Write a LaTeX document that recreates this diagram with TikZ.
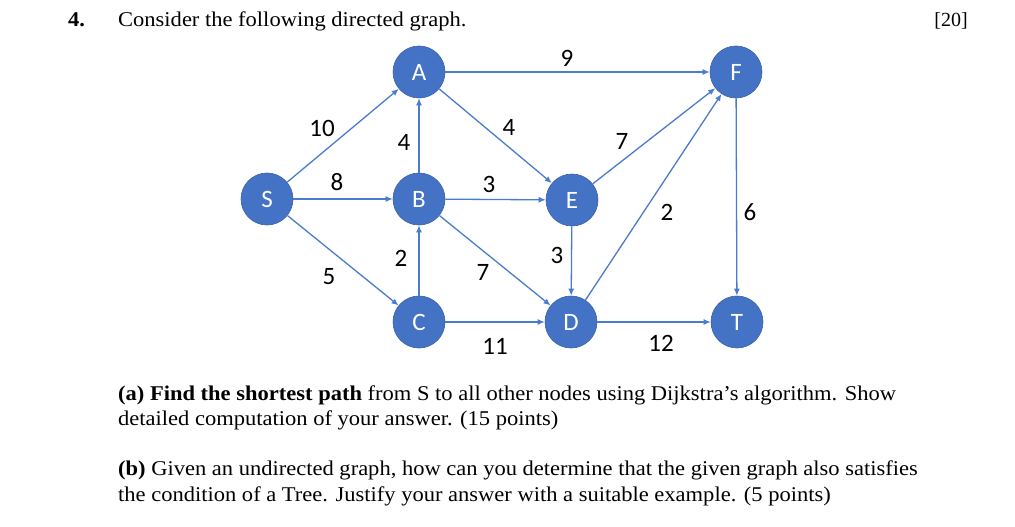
\documentclass[tikz,border=0pt]{standalone}
\usepackage{fontspec}
\setmainfont{Liberation Serif}[FakeStretch=1.072]
\newfontfamily\plainserif{Liberation Serif}
\newfontfamily\calib{Carlito}
\usetikzlibrary{arrows.meta}
\definecolor{nodeblue}{HTML}{4472C4}
\definecolor{edgeblue}{HTML}{4A7BCC}
\tikzset{
  vert/.style={circle,fill=nodeblue,draw=nodeblue!85!black,line width=0.6pt,minimum size=52pt,inner sep=0pt,text=white,font=\calib\fontsize{25}{25}\selectfont},
  edge/.style={draw=edgeblue,line width=1.3pt,-{Latex[length=7pt,width=6pt]}},
  wlab/.style={font=\calib\fontsize{25}{25}\selectfont,inner sep=0pt},
  body/.style={anchor=base west,inner sep=0pt,font=\fontsize{21}{26}\selectfont}
}
\begin{document}
\begin{tikzpicture}[x=1pt,y=-1pt]
\useasboundingbox (0,0) rectangle (1015,527);
\node[body] (num) at (68,27) {\textbf{4.}};
\node[body] (q) at (118,27) {Consider the following directed graph.};
\node[body,anchor=base east,font=\plainserif\fontsize{20}{24}\selectfont] (pts) at (968,27) {[20]};
\node[vert] (A) at (419,72) {A};
\node[vert] (F) at (736,72) {F};
\node[vert] (S) at (267,199) {S};
\node[vert] (B) at (419,199) {B};
\node[vert] (E) at (572,200) {E};
\node[vert] (C) at (419,322) {C};
\node[vert] (D) at (571,322) {D};
\node[vert] (T) at (737,322) {T};
\draw[edge] (S) -- (A);
\draw[edge] (S) -- (B);
\draw[edge] (S) -- (C);
\draw[edge] (A) -- (F);
\draw[edge] (A) -- (E);
\draw[edge] (B) -- (A);
\draw[edge] (B) -- (E);
\draw[edge] (B) -- (D);
\draw[edge] (C) -- (B);
\draw[edge] (C) -- (D);
\draw[edge] (E) -- (F);
\draw[edge] (E) -- (D);
\draw[edge] (D) -- (F);
\draw[edge] (D) -- (T);
\draw[edge] (F) -- (T);
\node[wlab] (l1) at (567,58) {9};
\node[wlab] (l2) at (322,128) {10};
\node[wlab] (l3) at (404,142) {4};
\node[wlab] (l4) at (509,127) {4};
\node[wlab] (l5) at (622,141) {7};
\node[wlab] (l6) at (337,182) {8};
\node[wlab] (l7) at (489,184) {3};
\node[wlab] (l8) at (667,212) {2};
\node[wlab] (l9) at (750,212) {6};
\node[wlab] (l10) at (401,258) {2};
\node[wlab] (l11) at (557,255) {3};
\node[wlab] (l12) at (329,277) {5};
\node[wlab] (l13) at (483,272) {7};
\node[wlab] (l14) at (495,346) {11};
\node[wlab] (l15) at (661,343) {12};
\node[body] (a1) at (118,400) {\textbf{(a) Find the shortest path} from S to all other nodes using Dijkstra’s algorithm. Show};
\node[body] (a2) at (118,425) {detailed computation of your answer. (15 points)};
\node[body] (b1) at (118,475) {\textbf{(b)} Given an undirected graph, how can you determine that the given graph also satisfies};
\node[body] (b2) at (118,501) {the condition of a Tree. Justify your answer with a suitable example. (5 points)};
\end{tikzpicture}
\end{document}
